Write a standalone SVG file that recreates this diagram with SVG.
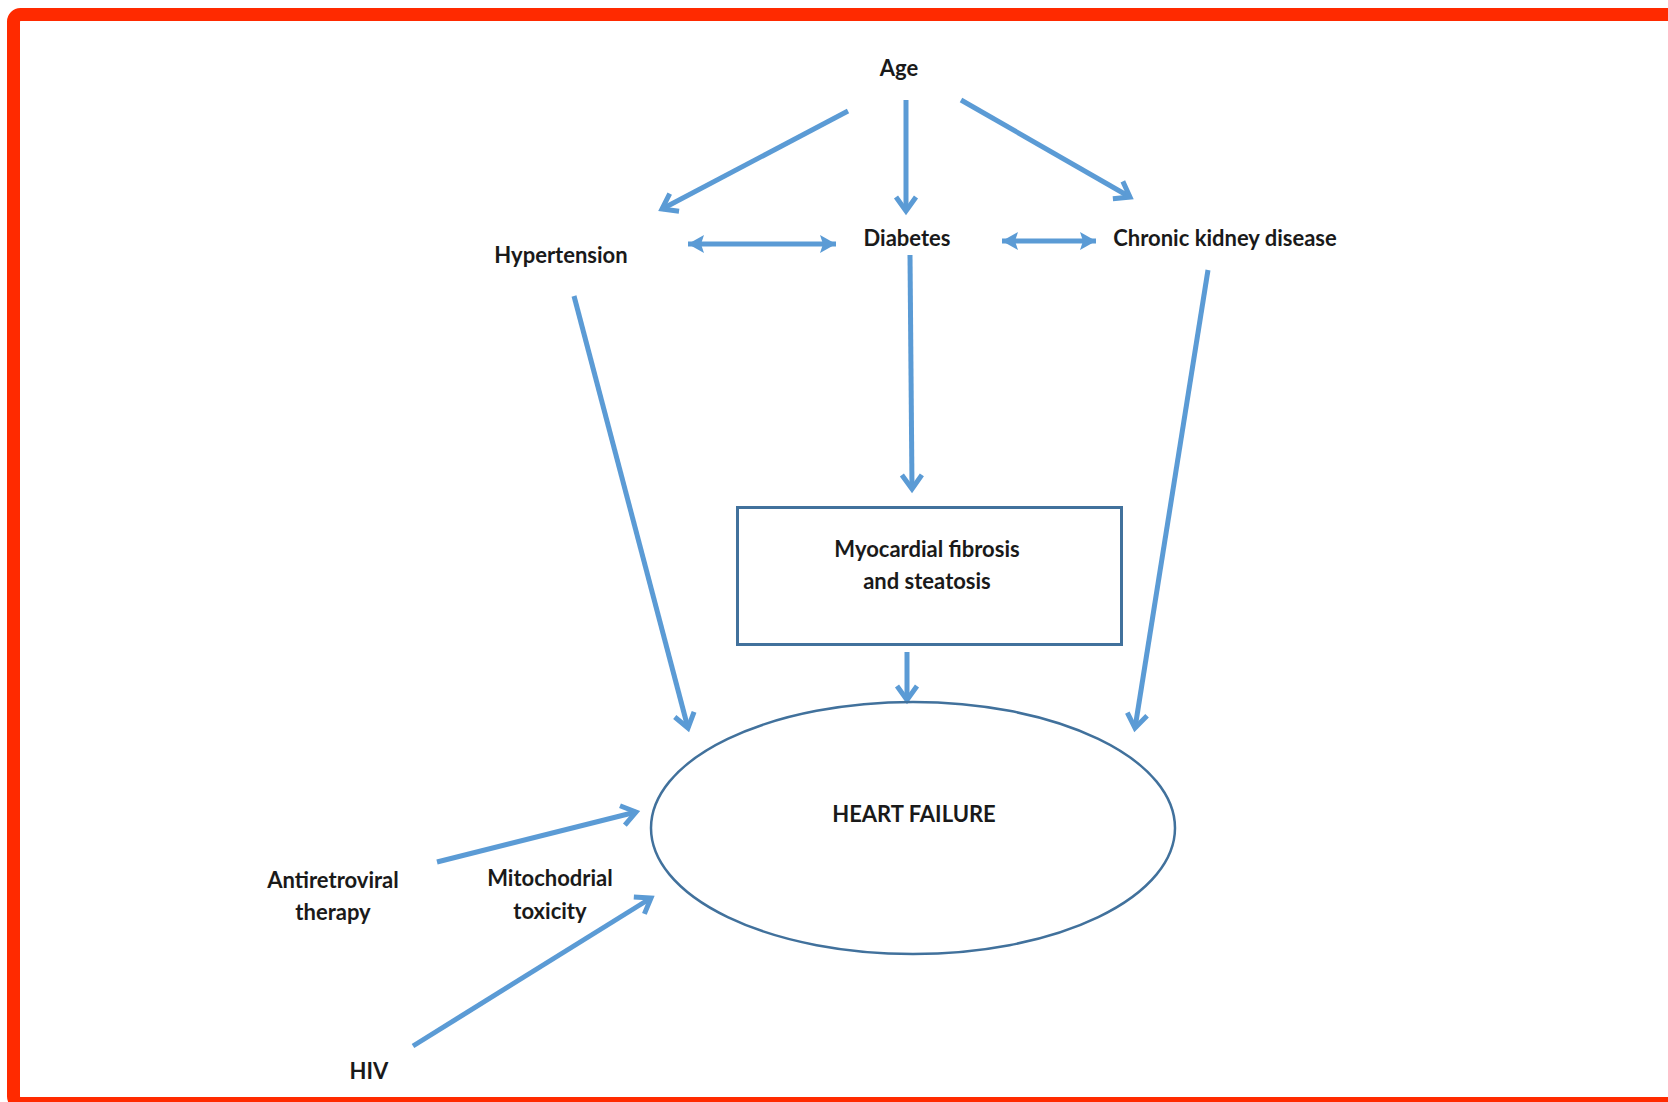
<svg xmlns="http://www.w3.org/2000/svg" width="1668" height="1102" viewBox="0 0 1668 1102">
<style>
.t{font-family:Lato,"Liberation Sans",sans-serif;font-weight:bold;font-size:22px;fill:#1a1a1a;text-anchor:middle}
.c{stroke:#5b9bd5;stroke-width:5;fill:none}
.o{marker-end:url(#open)}
.d{marker-start:url(#fs);marker-end:url(#fe)}
</style>
<defs>
<marker id="open" markerUnits="userSpaceOnUse" viewBox="-16 -12 20 24" refX="0" refY="0" markerWidth="20" markerHeight="24" orient="auto" overflow="visible">
<path d="M-14,-10 L0,0 L-14,10" fill="none" stroke="#5b9bd5" stroke-width="5" stroke-linejoin="miter"/>
</marker>
<marker id="fe" markerUnits="userSpaceOnUse" viewBox="-16 -10 18 20" refX="0" refY="0" markerWidth="18" markerHeight="20" orient="auto" overflow="visible">
<path d="M-16,-9 L0,0 L-16,9 L-13,0 Z" fill="#5b9bd5"/>
</marker>
<marker id="fs" markerUnits="userSpaceOnUse" viewBox="-2 -10 18 20" refX="0" refY="0" markerWidth="18" markerHeight="20" orient="auto" overflow="visible">
<path d="M16,-9 L0,0 L16,9 L13,0 Z" fill="#5b9bd5"/>
</marker>
</defs>
<rect x="0" y="0" width="1668" height="1102" fill="#ffffff"/>
<rect x="13.5" y="14.5" width="1700" height="1089" rx="7" fill="none" stroke="#ff2a00" stroke-width="13"/>

<g id="connectors">
<line class="c o" x1="848" y1="111" x2="662" y2="209"/>
<line class="c o" x1="906" y1="100" x2="906" y2="211"/>
<line class="c o" x1="961" y1="100" x2="1130" y2="197"/>
<line class="c d" x1="688" y1="244" x2="836" y2="244"/>
<line class="c d" x1="1002" y1="241" x2="1096" y2="241"/>
<line class="c o" x1="910" y1="255" x2="912" y2="489"/>
<line class="c o" x1="574" y1="296" x2="688" y2="728"/>
<line class="c o" x1="1208" y1="270" x2="1135" y2="728"/>
<line class="c o" x1="907" y1="652" x2="907" y2="700"/>
<line class="c o" x1="437" y1="862" x2="636" y2="812"/>
<line class="c o" x1="413" y1="1046" x2="651" y2="898"/>
</g>

<g id="age"><text class="t" x="899" y="76">Age</text></g>
<g id="hypertension"><text class="t" x="561" y="263">Hypertension</text></g>
<g id="diabetes"><text class="t" x="907" y="246">Diabetes</text></g>
<g id="ckd"><text class="t" x="1225" y="246">Chronic kidney disease</text></g>
<g id="myocardial">
<rect x="737.5" y="507.5" width="384" height="137" fill="#ffffff" stroke="#41719c" stroke-width="3"/>
<text class="t" x="927" y="557">Myocardial fibrosis</text>
<text class="t" x="927" y="589">and steatosis</text>
</g>
<g id="heart-failure">
<ellipse cx="913" cy="828" rx="262" ry="126" fill="none" stroke="#41719c" stroke-width="2.5"/>
<text class="t" x="914" y="822">HEART FAILURE</text>
</g>
<g id="art">
<text class="t" x="333" y="888">Antiretroviral</text>
<text class="t" x="333" y="920">therapy</text>
</g>
<g id="mito">
<text class="t" x="550" y="886">Mitochodrial</text>
<text class="t" x="550" y="919">toxicity</text>
</g>
<g id="hiv"><text class="t" x="369" y="1079">HIV</text></g>
</svg>
